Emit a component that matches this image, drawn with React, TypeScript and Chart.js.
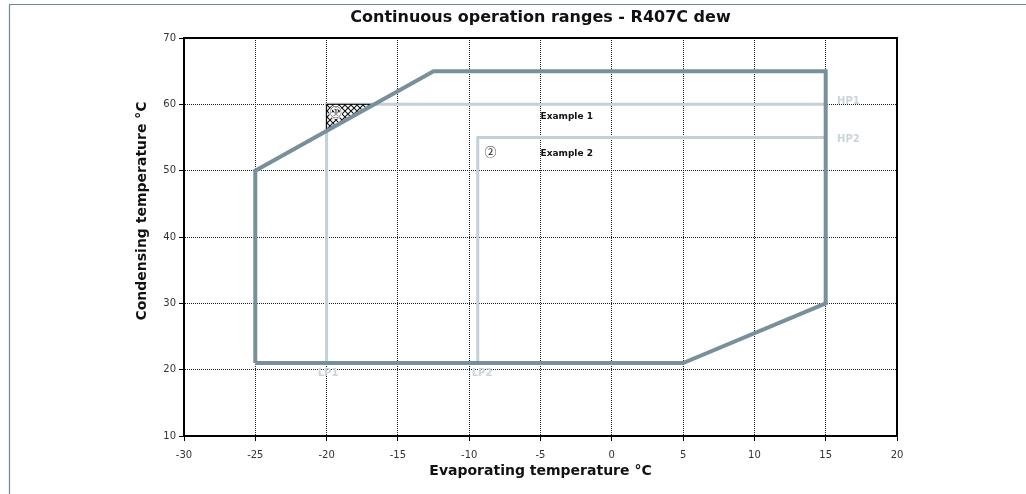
import React, { useEffect, useRef } from "react";
import { Chart, registerables } from "chart.js";

Chart.register(...registerables);

const envelopeX = [-25, -25, -12.5, 15, 15, 5, -25];
const envelopeY = [21, 50, 65, 65, 30, 21, 21];
const example1X = [-20, -20, 15];
const example1Y = [21, 60, 60];
const example2X = [-9.4, -9.4, 15];
const example2Y = [21, 55, 55];
const hatchX = [-20, -20, -16.67, -20];
const hatchY = [56, 60, 60, 56];

const xTicks = [-30, -25, -20, -15, -10, -5, 0, 5, 10, 15, 20];
const yTicks = [10, 20, 30, 40, 50, 60, 70];

const titleText = "Continuous operation ranges - R407C dew";
const xTitle = "Evaporating temperature °C";
const yTitle = "Condensing temperature °C";

const noteTexts = ["Example 1", "Example 2", "①", "②", "HP1", "HP2", "LP1", "LP2"];
const noteX = [-5.0, -5.0, -19.35, -8.5, 15.8, 15.8, -19.9, -9.1];
const noteY = [58.1, 52.6, 58.8, 52.7, 60.4, 54.7, 19.45, 19.45];
const noteKind = ["ex", "ex", "num", "num", "hp", "hp", "lp", "lp"];

const pts = (xs: number[], ys: number[]) => xs.map((x, i) => ({ x, y: ys[i] }));

export default function App() {
  const ref = useRef<HTMLCanvasElement>(null);
  useEffect(() => {
    document.body.style.margin = "0";
    const canvas = ref.current!;
    const pc = document.createElement("canvas");
    pc.width = 6;
    pc.height = 6;
    const p = pc.getContext("2d")!;
    p.fillStyle = "#fff";
    p.fillRect(0, 0, 6, 6);
    p.strokeStyle = "#111";
    p.lineWidth = 1.1;
    p.beginPath();
    p.moveTo(0, 0);
    p.lineTo(6, 6);
    p.moveTo(6, 0);
    p.lineTo(0, 6);
    p.stroke();
    const pattern = canvas.getContext("2d")!.createPattern(pc, "repeat")!;

    const decor = {
      id: "decor",
      beforeDraw(chart: any) {
        const ctx = chart.ctx;
        ctx.save();
        ctx.fillStyle = "#fff";
        ctx.fillRect(0, 0, chart.width, chart.height);
        ctx.strokeStyle = "#6f8896";
        ctx.lineWidth = 1.2;
        ctx.beginPath();
        ctx.moveTo(9.5, 494);
        ctx.lineTo(9.5, 4.5);
        ctx.lineTo(1026, 4.5);
        ctx.stroke();
        ctx.restore();
      },
      afterDraw(chart: any) {
        const ctx = chart.ctx;
        const a = chart.chartArea;
        const xs = chart.scales.x;
        const ys = chart.scales.y;
        ctx.save();
        ctx.strokeStyle = "#000";
        ctx.lineWidth = 2;
        ctx.beginPath();
        ctx.moveTo(a.left, a.top);
        ctx.lineTo(a.right, a.top);
        ctx.lineTo(a.right, a.bottom);
        ctx.stroke();

        ctx.fillStyle = "#111";
        ctx.textAlign = "center";
        ctx.textBaseline = "middle";
        ctx.font = "bold 16px 'DejaVu Sans'";
        ctx.fillText(titleText, (a.left + a.right) / 2, 18);
        ctx.font = "bold 14px 'DejaVu Sans'";
        ctx.fillText(xTitle, (a.left + a.right) / 2, 471);
        ctx.save();
        ctx.translate(142, 211);
        ctx.rotate(-Math.PI / 2);
        ctx.fillText(yTitle, 0, 0);
        ctx.restore();

        noteTexts.forEach((t, i) => {
          const px = xs.getPixelForValue(noteX[i]);
          const py = ys.getPixelForValue(noteY[i]);
          const k = noteKind[i];
          if (k === "ex") {
            ctx.font = "bold 9px 'DejaVu Sans'";
            ctx.fillStyle = "#111";
            ctx.textAlign = "left";
          } else if (k === "num") {
            ctx.font = "12px 'Noto Sans CJK JP', 'DejaVu Sans'";
            ctx.fillStyle = "#222";
            ctx.textAlign = "center";
            if (i === 2) {
              ctx.save();
              ctx.strokeStyle = "#fff";
              ctx.lineWidth = 2;
              ctx.strokeText(t, px, py);
              ctx.restore();
            }
          } else {
            ctx.font = "bold 10px 'DejaVu Sans'";
            ctx.fillStyle = "#c9d5db";
            ctx.textAlign = k === "hp" ? "left" : "center";
          }
          ctx.fillText(t, px, py);
        });
        ctx.restore();
      },
    };

    const light = "#c3d0d7";
    const gridOpts: any = {
      color: "#222",
      lineWidth: 1,
      tickLength: 5,
      tickColor: "#000",
      tickBorderDash: [],
    };
    const chart = new Chart(canvas, {
      type: "scatter",
      data: {
        datasets: [
          {
            data: pts(example1X, example1Y),
            showLine: true,
            borderColor: light,
            borderWidth: 3,
            pointRadius: 0,
            order: 3,
          },
          {
            data: pts(example2X, example2Y),
            showLine: true,
            borderColor: light,
            borderWidth: 3,
            pointRadius: 0,
            order: 3,
          },
          {
            data: pts(hatchX, hatchY),
            showLine: true,
            borderColor: "#000",
            borderWidth: 1,
            backgroundColor: pattern as any,
            fill: "shape" as any,
            pointRadius: 0,
            order: 2,
          },
          {
            data: pts(envelopeX, envelopeY),
            showLine: true,
            borderColor: "#78909c",
            borderWidth: 4,
            borderJoinStyle: "miter",
            pointRadius: 0,
            order: 1,
          },
        ],
      },
      options: {
        responsive: false,
        animation: false,
        layout: { padding: { left: 0, right: 129, top: 38, bottom: 0 } },
        plugins: {
          legend: { display: false },
          title: { display: false },
          tooltip: { enabled: false },
        },
        scales: {
          x: {
            type: "linear",
            min: -30,
            max: 20,
            afterFit: (s: any) => {
              s.height = 58;
            },
            afterBuildTicks: (s: any) => {
              s.ticks = xTicks.map((v) => ({ value: v }));
            },
            ticks: {
              color: "#333",
              font: { family: "'DejaVu Sans'", size: 10 },
              padding: 8,
              maxRotation: 0,
            },
            grid: gridOpts,
            border: { color: "#000", width: 2, dash: [1, 1] } as any,
          },
          y: {
            type: "linear",
            min: 10,
            max: 70,
            afterFit: (s: any) => {
              s.width = 184;
            },
            afterBuildTicks: (s: any) => {
              s.ticks = yTicks.map((v) => ({ value: v }));
            },
            ticks: {
              color: "#333",
              font: { family: "'DejaVu Sans'", size: 10 },
              padding: 3,
            },
            grid: gridOpts,
            border: { color: "#000", width: 2, dash: [1, 1] } as any,
          },
        },
      },
      plugins: [decor],
    });
    return () => chart.destroy();
  }, []);
  return <canvas ref={ref} width={1026} height={494} style={{ display: "block" }} />;
}
